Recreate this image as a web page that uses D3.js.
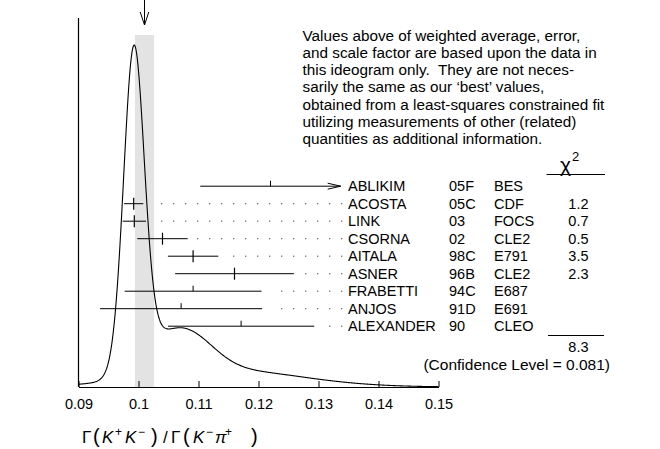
<!DOCTYPE html>
<html><head><meta charset="utf-8">
<script src="https://cdn.jsdelivr.net/npm/d3@7"></script>
<style>
html,body{margin:0;padding:0;background:#fff;}
svg{display:block;font-family:"Liberation Sans",Arial,Helvetica,sans-serif;}
</style></head>
<body>
<svg id="chart" width="660" height="449"></svg>
<script>
// ---- data ----
const authors     = ["ABLIKIM","ACOSTA","LINK","CSORNA","AITALA","ASNER","FRABETTI","ANJOS","ALEXANDER"];
const years       = ["05F","05C","03","02","98C","96B","94C","91D","90"];
const experiments = ["BES","CDF","FOCS","CLE2","E791","CLE2","E687","E691","CLEO"];
const values      = [0.1220, 0.0992, 0.0993, 0.1040, 0.1091, 0.1160, 0.1091, 0.1071, 0.1171];
const errors      = [0.0117, 0.0016, 0.00195, 0.0042, 0.0042, 0.0099, 0.0114, 0.0135, 0.0122];
const chi2Values  = ["", "1.2", "0.7", "0.5", "3.5", "2.3", "", "", ""];
const usedInFit   = [false, true, true, true, true, true, false, false, false];
const weightedAverage = 0.1010;
const averageError    = 0.0016;
const chi2Total       = "8.3";
const confidenceLevel = "0.081";
const xTickValues = [0.09, 0.10, 0.11, 0.12, 0.13, 0.14, 0.15];
const xTickLabels = ["0.09", "0.1", "0.11", "0.12", "0.13", "0.14", "0.15"];
const noteLines = [
  "Values above of weighted average, error,",
  "and scale factor are based upon the data in",
  "this ideogram only.  They are not neces-",
  "sarily the same as our \u2018best\u2019 values,",
  "obtained from a least-squares constrained fit",
  "utilizing measurements of other (related)",
  "quantities as additional information."
];

// ---- layout ----
const svg = d3.select("#chart");
const x = d3.scaleLinear().domain([0.09, 0.15]).range([78.5, 438.5]);
const axisY = 387;
const rowY = d3.scaleLinear().domain([0, authors.length - 1]).range([186.2, 326.2]);

// grey band for the weighted average
svg.append("rect")
  .attr("x", x(weightedAverage - averageError))
  .attr("y", 35)
  .attr("width", x(weightedAverage + averageError) - x(weightedAverage - averageError))
  .attr("height", axisY - 35)
  .attr("fill", "#e3e3e3");

// ideogram: each measurement a Gaussian of area proportional to 1/sigma
const samples = d3.range(0, 601).map(i => 0.09 + i * 0.0001);
const ideo = samples.map(v => {
  let s = 0;
  values.forEach((m, i) => {
    const z = (v - m) / errors[i];
    s += Math.exp(-0.5 * z * z) / (errors[i] * errors[i]);
  });
  return [v, s];
});
const y = d3.scaleLinear().domain([0, d3.max(ideo, d => d[1])]).range([axisY, 45]);
svg.append("path")
  .datum(ideo)
  .attr("fill", "none")
  .attr("stroke", "#000")
  .attr("stroke-width", 1.1)
  .attr("d", d3.line().x(d => x(d[0])).y(d => y(d[1])));

// axes
svg.append("line").attr("x1", 78.5).attr("x2", 78.5).attr("y1", 18).attr("y2", axisY)
  .attr("stroke", "#000").attr("stroke-width", 1.2);
const xAxis = d3.axisBottom(x).tickValues(xTickValues)
  .tickFormat((d, i) => xTickLabels[i]).tickSizeInner(-6).tickSizeOuter(0).tickPadding(12);
const gx = svg.append("g").attr("transform", `translate(0,${axisY})`).call(xAxis);
gx.select(".domain").attr("stroke", "#000").attr("stroke-width", 1.2);
gx.selectAll(".tick line").attr("stroke", "#000").attr("stroke-width", 1);
gx.selectAll(".tick text").attr("font-size", 14.5).attr("font-family", "Liberation Sans, Arial, sans-serif").attr("fill", "#000");

// arrow at top for average
const ax = x(weightedAverage);
svg.append("path").attr("d", `M${ax},0 L${ax},25 M${ax-4.3},12 L${ax},25 L${ax+4.3},12`)
  .attr("fill", "none").attr("stroke", "#000").attr("stroke-width", 1);

// measurements
const labelX = 348;
const rows = svg.append("g");
authors.forEach((name, i) => {
  const yy = rowY(i);
  const lo = x(values[i] - errors[i]), hi = x(values[i] + errors[i]), c = x(values[i]);
  const g = rows.append("g");
  g.append("line").attr("x1", lo).attr("x2", hi).attr("y1", yy).attr("y2", yy)
    .attr("stroke", "#000").attr("stroke-width", 1);
  if (usedInFit[i]) {
    g.append("line").attr("x1", c).attr("x2", c).attr("y1", yy - 6).attr("y2", yy + 6)
      .attr("stroke", "#000").attr("stroke-width", 1.2);
  } else {
    g.append("line").attr("x1", c).attr("x2", c).attr("y1", yy - 5.5).attr("y2", yy)
      .attr("stroke", "#000").attr("stroke-width", 1);
  }
  if (hi > labelX - 20) {
    g.append("path").attr("d", `M${hi-13},${yy-3} L${hi},${yy} L${hi-13},${yy+3}`)
      .attr("fill", "none").attr("stroke", "#000").attr("stroke-width", 1);
  } else {
    const dots = [];
    for (let dx = labelX - 6.3; dx > hi + 8.3; dx -= 12) dots.push(dx);
    g.selectAll("rect.dot").data(dots).join("rect").attr("class", "dot")
      .attr("x", d => d - 0.6).attr("y", yy - 0.6).attr("width", 1.2).attr("height", 1.2)
      .attr("fill", "#555");
  }
  const t = (txt, tx, anchor) => g.append("text").attr("x", tx).attr("y", yy + 5.2)
    .attr("font-size", 14.5).attr("text-anchor", anchor || "start").text(txt);
  t(name, labelX);
  t(years[i], 449);
  t(experiments[i], 494);
  if (chi2Values[i]) t(chi2Values[i], 588.5, "end");
});

// chi2 header
const hdr = svg.append("text").attr("x", 560).attr("y", 172).attr("font-size", 21);
hdr.append("tspan").text("\u03C7");
hdr.append("tspan").attr("font-size", 13).attr("dy", -11).attr("dx", 1).text("2");
svg.append("line").attr("x1", 546.5).attr("x2", 605).attr("y1", 174.5).attr("y2", 174.5)
  .attr("stroke", "#000").attr("stroke-width", 1);
svg.append("line").attr("x1", 548).attr("x2", 604).attr("y1", 335.5).attr("y2", 335.5)
  .attr("stroke", "#000").attr("stroke-width", 1);
svg.append("text").attr("x", 588.5).attr("y", 352).attr("font-size", 14.5).attr("text-anchor", "end").text(chi2Total);
svg.append("text").attr("x", 610).attr("y", 370).attr("font-size", 15.5).attr("text-anchor", "end")
  .text(`(Confidence Level = ${confidenceLevel})`);

// note text
svg.append("g").selectAll("text").data(noteLines).join("text")
  .attr("x", 302.5).attr("y", (d, i) => 40.5 + i * 17.33)
  .attr("font-size", 15.3).style("white-space", "pre").text(d => d);

// x title, laid out piece by piece
const titleParts = [
  {t: "\u0393", x: 82},
  {t: "(", x: 93, big: true},
  {t: "K", x: 102, it: true},
  {t: "+", x: 115, sup: true},
  {t: "K", x: 125, it: true},
  {t: "\u2212", x: 138, sup: true},
  {t: ")", x: 151, big: true},
  {t: "/", x: 163},
  {t: "\u0393", x: 171},
  {t: "(", x: 183, big: true},
  {t: "K", x: 193, it: true},
  {t: "\u2212", x: 206, sup: true},
  {t: "\u03C0", x: 215, it: true},
  {t: "+", x: 225, sup: true},
  {t: ")", x: 251, big: true}
];
svg.append("g").selectAll("text").data(titleParts).join("text")
  .attr("x", d => d.x)
  .attr("y", d => d.sup ? 436 : 443)
  .attr("font-size", d => d.sup ? 12 : (d.big ? 20 : 17))
  .attr("font-style", d => d.it ? "italic" : "normal")
  .text(d => d.t);
</script>
</body></html>
